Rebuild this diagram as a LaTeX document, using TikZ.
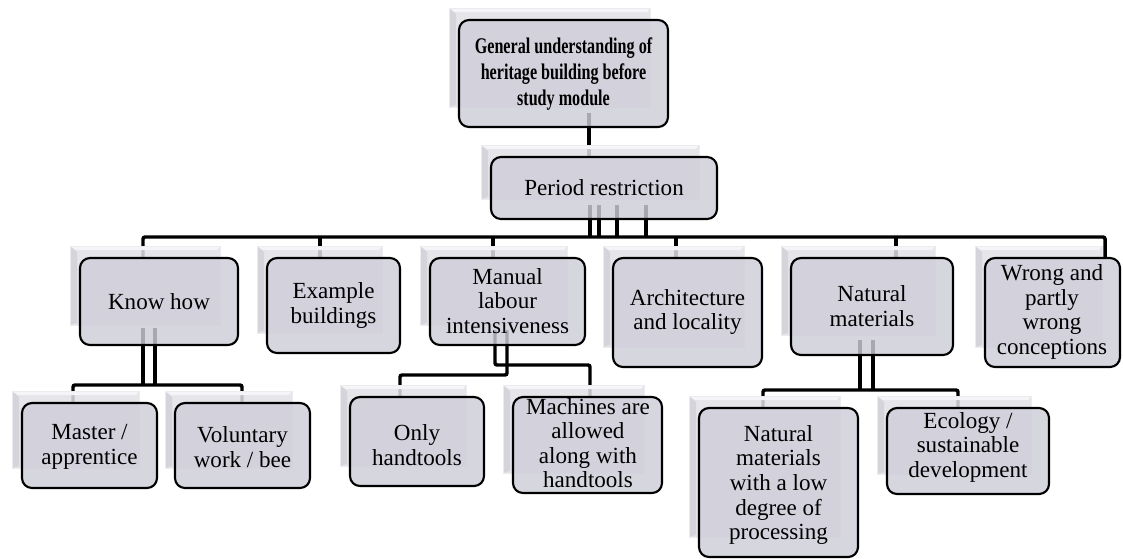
\documentclass[tikz,border=0pt]{standalone}
\usepackage{fontspec}
\setmainfont{Liberation Serif}
\newfontfamily\titlefont[FakeStretch=0.72]{Liberation Serif Bold}
\usetikzlibrary{fit}
\definecolor{frontfill}{HTML}{CECDD9}
\definecolor{backfill}{HTML}{E1E1E7}
\definecolor{backtop}{HTML}{F5F5F7}
\definecolor{backleft}{HTML}{D2D2D9}
\definecolor{backedge}{HTML}{ECECF0}
\pgfdeclarelayer{paper}
\pgfdeclarelayer{bg}
\pgfsetlayers{paper,bg,main}
\tikzset{
  conn/.style={line width=2.6pt, black, rounded corners=1.5pt},
  frontbox/.style={draw=black, line width=1.6pt, fill=frontfill, fill opacity=0.82, draw opacity=1, rounded corners=7.5pt, inner sep=0pt},
  txt/.style={align=center, font=\fontsize{17.3}{18.4}\selectfont, inner sep=0pt},
  ttl/.style={align=center, font=\titlefont\fontsize{16.8}{19.5}\selectfont, inner sep=0pt},
}
% #1 name, #2 #3 front top-left, #4 #5 front bottom-right
\newcommand\smartbox[5]{%
  \pgfmathsetmacro\bxa{#2-10}\pgfmathsetmacro\bya{#3-12}%
  \pgfmathsetmacro\bxb{#4-18}\pgfmathsetmacro\byb{#5-20}%
  \fill[backfill, fill opacity=0.85] (\bxa,\bya) rectangle (\bxb,\byb);
  \fill[backleft, fill opacity=0.85] (\bxa,\bya) -- (\bxa+7,\bya+6) -- (\bxa+7,\byb-2) -- (\bxa,\byb) -- cycle;
  \fill[backtop] (\bxa,\bya) -- (\bxb,\bya) -- (\bxb-3,\bya+4) -- (\bxa+6,\bya+4) -- cycle;
  \draw[backedge, line width=0.6pt] (\bxa,\bya) rectangle (\bxb,\byb);
  \path (#2,#3) coordinate (#1-nw) (#4,#5) coordinate (#1-se);
  \node[frontbox, fit=(#1-nw)(#1-se)] (#1) {};
}
\begin{document}
\begin{tikzpicture}[x=0.75pt, y=-0.75pt]
\begin{pgfonlayer}{paper}
  \fill[white] (0,0) rectangle (1123,558);
\end{pgfonlayer}
\useasboundingbox (0,0) rectangle (1123,558);

% boxes
\smartbox{top}{459}{20}{668}{127}
\smartbox{period}{491}{157}{717}{219}
\smartbox{kh}{80}{258}{238}{345}
\smartbox{ex}{267}{258}{400}{353}
\smartbox{man}{430}{258}{585}{345}
\smartbox{arch}{613}{258}{762}{367}
\smartbox{nat}{791}{258}{953}{355}
\smartbox{wrong}{985}{258}{1120}{367}
\smartbox{mast}{22}{403}{157}{488}
\smartbox{vol}{175}{403}{310}{488}
\smartbox{only}{350}{397}{484}{486}
\smartbox{mach}{513}{397}{662}{493}
\smartbox{natlow}{699}{408}{858}{557}
\smartbox{eco}{887}{408}{1049}{494}

% texts
\node[ttl] (top-t) at (563.5,74) {General understanding of\\heritage building before\\study module};
\node[txt] (period-t) at (604,188) {Period restriction};
\node[txt] (kh-t) at (159,301.5) {Know how};
\node[txt] (ex-t) at (333.5,305.5) {Example\\buildings};
\node[txt] (man-t) at (507.5,301) {Manual\\labour\\intensiveness};
\node[txt] (arch-t) at (687.5,312) {Architecture\\and locality};
\node[txt] (nat-t) at (872,306) {Natural\\materials};
\node[txt] (wrong-t) at (1052,312) {Wrong and\\partly\\wrong\\conceptions};
\node[txt] (mast-t) at (89.5,447) {Master /\\apprentice};
\node[txt] (vol-t) at (242.5,447) {Voluntary\\work / bee};
\node[txt] (only-t) at (417,445) {Only\\handtools};
\node[txt] (mach-t) at (588,443) {Machines are\\allowed\\along with\\handtools};
\node[txt] (natlow-t) at (778.5,485) {Natural\\materials\\with a low\\degree of\\processing};
\node[txt] (eco-t) at (968,447) {Ecology /\\sustainable\\development};

% connectors (drawn beneath the boxes)
\begin{pgfonlayer}{bg}
  % top -> period
  \coordinate (c0) at (589,113);
  \draw[conn] (c0) -- (c0 |- period.north);
  % period -> bus
  \foreach \x in {590,599,617,646} \draw[conn] (\x,205) -- (\x,237);
  \coordinate (b1) at (143,237);
  \coordinate (b2) at (320,237);
  \coordinate (b3) at (493,237);
  \coordinate (b4) at (676,237);
  \coordinate (b5) at (896,237);
  \coordinate (b6) at (1105,237);
  \draw[conn] (b1 |- kh.north) -- (b1) -- (b6) -- (b6 |- wrong.north);
  \draw[conn] (b2) -- (b2 |- ex.north);
  \draw[conn] (b3) -- (b3 |- man.north);
  \draw[conn] (b4) -- (b4 |- arch.north);
  \draw[conn] (b5) -- (b5 |- nat.north);
  % know how -> children
  \draw[conn] (143,328) -- (143,385);
  \draw[conn] (155,328) -- (155,385);
  \coordinate (k1) at (73,385);
  \coordinate (k2) at (242,385);
  \draw[conn] (k1 |- mast.north) -- (k1) -- (k2) -- (k2 |- vol.north);
  % manual -> children
  \coordinate (m1) at (590,365);
  \coordinate (m2) at (400,375);
  \draw[conn] (495,330) -- (495,365) -- (m1) -- (m1 |- mach.north);
  \draw[conn] (507,330) -- (507,375) -- (m2) -- (m2 |- only.north);
  % natural -> children
  \draw[conn] (860,340) -- (860,390);
  \draw[conn] (873,340) -- (873,390);
  \coordinate (n1) at (763,390);
  \coordinate (n2) at (958,390);
  \draw[conn] (n1 |- natlow.north) -- (n1) -- (n2) -- (n2 |- eco.north);
\end{pgfonlayer}
\end{tikzpicture}
\end{document}
